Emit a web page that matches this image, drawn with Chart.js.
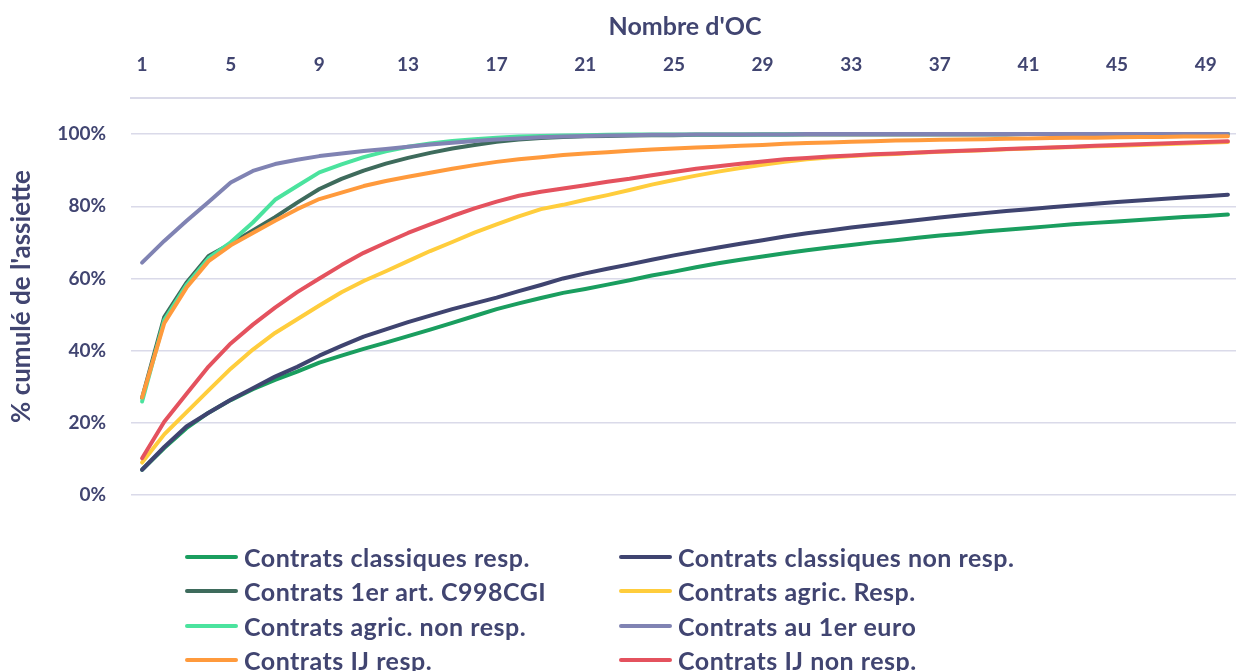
<!DOCTYPE html>
<html>
<head>
<meta charset="utf-8">
<script src="https://cdn.jsdelivr.net/npm/chart.js@4.4.1/dist/chart.umd.min.js"></script>
<style>
html,body{margin:0;padding:0;width:1236px;height:671px;overflow:hidden;background:#fff;}
#wrap{position:absolute;left:0;top:0;width:1240px;height:512px;}
#legend{position:absolute;left:0;top:0;width:1236px;height:671px;pointer-events:none;}
.li{position:absolute;height:34px;display:flex;align-items:center;font-family:Lato,"Open Sans",sans-serif;font-weight:bold;font-size:25px;letter-spacing:0.5px;color:#414571;white-space:nowrap;}
.li span.sw{display:inline-block;width:53px;height:4px;border-radius:2px;margin-right:6px;}
</style>
</head>
<body>
<div id="wrap"><canvas id="c"></canvas></div>
<div id="legend"></div>
<script>
const categories = ["1","2","3","4","5","6","7","8","9","10","11","12","13","14","15","16","17","18","19","20","21","22","23","24","25","26","27","28","29","30","31","32","33","34","35","36","37","38","39","40","41","42","43","44","45","46","47","48","49","50"];

const classiquesResp = [7.0,13.0,18.5,22.8,26.3,29.3,31.9,34.2,36.7,38.6,40.5,42.2,44.0,45.8,47.7,49.6,51.5,53.1,54.6,56.0,57.1,58.3,59.5,60.8,61.9,63.1,64.2,65.2,66.1,67.0,67.8,68.6,69.3,70.0,70.6,71.3,71.9,72.4,73.0,73.5,74.0,74.5,75.0,75.4,75.8,76.2,76.6,77.0,77.3,77.7];
const classiquesNonResp = [7.0,13.3,19.0,22.8,26.4,29.6,32.8,35.5,38.6,41.3,43.9,45.9,47.9,49.7,51.5,53.1,54.7,56.5,58.2,60.0,61.4,62.7,63.9,65.2,66.4,67.5,68.6,69.6,70.6,71.6,72.5,73.3,74.1,74.8,75.5,76.2,76.9,77.5,78.1,78.7,79.2,79.7,80.2,80.7,81.2,81.6,82.0,82.4,82.8,83.2];
const art1erC998CGI = [26.9,49.3,58.8,66.2,69.6,73.3,77.0,81.0,84.8,87.6,89.9,91.8,93.4,94.8,96.0,97.0,97.9,98.5,98.9,99.2,99.4,99.5,99.6,99.7,99.7,99.8,99.8,99.8,99.9,99.9,99.9,99.9,99.9,99.9,99.9,99.9,99.9,99.9,99.9,99.9,100,100,100,100,100,100,100,100,100,100];
const agricResp = [9.0,16.8,22.9,29.0,35.0,40.3,44.9,48.7,52.5,56.2,59.3,62.0,64.8,67.6,70.1,72.7,75.0,77.2,79.2,80.4,81.8,83.1,84.5,86.0,87.3,88.5,89.6,90.6,91.5,92.3,93.0,93.5,93.9,94.3,94.5,94.8,95.1,95.3,95.5,95.8,96.0,96.2,96.4,96.6,96.8,97.0,97.2,97.4,97.6,97.8];
const agricNonResp = [25.9,48.5,58.2,65.6,70.0,75.5,81.8,85.6,89.4,91.6,93.6,95.2,96.5,97.4,98.1,98.6,99.0,99.3,99.5,99.6,99.7,99.8,99.9,99.9,99.9,99.9,99.9,99.9,99.9,99.9,100,100,100,100,100,100,100,100,100,100,100,100,100,100,100,100,100,100,100,100];
const au1erEuro = [64.4,70.4,75.9,81.2,86.6,89.8,91.7,92.9,93.9,94.6,95.3,95.9,96.5,97.1,97.6,98.1,98.5,98.8,99.1,99.3,99.5,99.6,99.7,99.8,99.8,99.9,99.9,99.9,99.9,99.9,100,100,100,100,100,100,100,100,100,100,100,100,100,100,100,100,100,100,100,100];
const ijResp = [27.0,47.6,57.4,64.8,69.2,72.6,76.0,79.2,82.0,83.8,85.6,87.0,88.2,89.3,90.4,91.4,92.3,93.0,93.6,94.2,94.6,95.0,95.4,95.7,96.0,96.3,96.5,96.8,97.0,97.3,97.5,97.7,97.9,98.0,98.2,98.3,98.4,98.5,98.6,98.7,98.8,98.9,99.0,99.0,99.1,99.2,99.2,99.3,99.3,99.4];
const ijNonResp = [10.2,20.3,28.0,35.6,42.0,47.2,51.9,56.2,60.0,63.7,67.1,69.9,72.6,75.0,77.3,79.4,81.3,82.9,84.0,84.9,85.8,86.8,87.6,88.6,89.5,90.4,91.1,91.8,92.4,93.0,93.4,93.8,94.1,94.4,94.6,94.9,95.2,95.4,95.6,95.9,96.1,96.3,96.5,96.8,97.0,97.2,97.4,97.6,97.8,98.0];

const seriesNames = ["Contrats classiques resp.","Contrats classiques non resp.","Contrats 1er art. C998CGI","Contrats agric. Resp.","Contrats agric. non resp.","Contrats au 1er euro","Contrats IJ resp.","Contrats IJ non resp."];
const seriesData = [classiquesResp,classiquesNonResp,art1erC998CGI,agricResp,agricNonResp,au1erEuro,ijResp,ijNonResp];
const seriesColors = ["#1A9E5F","#3F4470","#3E6B5C","#FFCD3C","#4BE39E","#8083B3","#FF9A3C","#E4525E"];

const yTicks = [0,20,40,60,80,100];
const xTitle = "Nombre d'OC";
const yTitle = "% cumulé de l'assiette";

const txt = "#414571";
const grid = "#DADAE9";
const fam = 'Lato, "Open Sans", sans-serif';

const datasets = seriesData.map((d,i)=>({
  label: seriesNames[i],
  data: d,
  borderColor: seriesColors[i],
  backgroundColor: seriesColors[i],
  borderWidth: 4,
  pointRadius: 0,
  tension: 0,
  fill: false,
  borderCapStyle: 'round',
  borderJoinStyle: 'round',
  order: seriesData.length - i
}));

new Chart(document.getElementById('c'), {
  type: 'line',
  data: { labels: categories, datasets },
  options: {
    responsive: true,
    maintainAspectRatio: false,
    animation: false,
    layout: { padding: { left: 0, right: 1, top: 0, bottom: 17 } },
    plugins: { legend: { display: false }, tooltip: { enabled: false } },
    scales: {
      x: {
        type: 'category',
        position: 'top',
        offset: true,
        grid: { display: false, drawTicks: false },
        border: { display: true, color: grid, width: 2 },
        ticks: {
          autoSkip: false, maxRotation: 0, padding: 22,
          color: txt, font: { family: fam, weight: 'bold', size: 19 },
          callback: (v, i) => (i % 4 === 0 ? categories[i] : '')
        },
        title: { display: true, text: xTitle, color: txt, font: { family: fam, weight: 'bold', size: 25 }, padding: { top: 12, bottom: 0 } },
        afterFit: s => { s.height = 98; s.paddingLeft = 0; s.paddingRight = 0; }
      },
      y: {
        min: 0, max: 110,
        grid: { color: grid, lineWidth: 1.5, drawTicks: false },
        border: { display: false },
        afterBuildTicks: s => { s.ticks = yTicks.map(v => ({ value: v })); },
        ticks: { padding: 25, crossAlign: 'near', color: txt, font: { family: fam, weight: 'bold', size: 19 }, callback: v => v + '%' },
        title: { display: true, text: yTitle, color: txt, font: { family: fam, weight: 'bold', size: 26 }, padding: { top: 6, bottom: 0 } },
        afterFit: s => { s.width = 131; s.paddingTop = 0; s.paddingBottom = 0; }
      }
    }
  }
});

// two-column legend built from the series arrays
const leg = document.getElementById('legend');
const rowY = [540, 574, 609, 643];
const colX = [185, 619];
seriesNames.forEach((name, i) => {
  const el = document.createElement('div');
  el.className = 'li';
  el.style.left = colX[i % 2] + 'px';
  el.style.top = rowY[Math.floor(i / 2)] + 'px';
  const sw = document.createElement('span');
  sw.className = 'sw';
  sw.style.background = seriesColors[i];
  el.appendChild(sw);
  el.appendChild(document.createTextNode(name));
  leg.appendChild(el);
});
</script>
</body>
</html>
